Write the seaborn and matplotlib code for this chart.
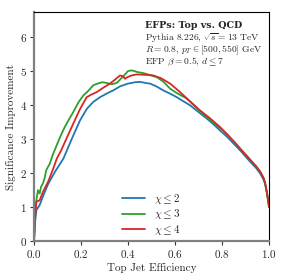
import matplotlib
matplotlib.use("Agg")
import matplotlib.pyplot as plt
import seaborn as sns
import pandas as pd

# curves: top jet efficiency vs significance improvement
eff_chi2 = [0, 0.005, 0.01, 0.024, 0.04, 0.06, 0.09, 0.125, 0.16, 0.196, 0.225, 0.252,
            0.281, 0.31, 0.337, 0.366, 0.40, 0.43, 0.451, 0.474, 0.494, 0.52, 0.55, 0.58,
            0.607, 0.635, 0.664, 0.70, 0.735, 0.765, 0.791, 0.82, 0.848, 0.88, 0.919,
            0.945, 0.962, 0.975, 0.983, 0.991, 1.0]
sig_chi2 = [0, 0.6, 0.91, 1.06, 1.35, 1.68, 2.05, 2.43, 3.0, 3.56, 3.9, 4.10,
            4.24, 4.35, 4.44, 4.56, 4.64, 4.68, 4.69, 4.66, 4.64, 4.56, 4.44, 4.34,
            4.24, 4.12, 4.0, 3.80, 3.61, 3.43, 3.26, 3.08, 2.88, 2.65, 2.34,
            2.15, 1.99, 1.83, 1.68, 1.40, 1.0]

eff_chi3 = [0, 0.005, 0.012, 0.017, 0.024, 0.03, 0.038, 0.045, 0.052, 0.067, 0.08, 0.088,
            0.11, 0.13, 0.15, 0.167, 0.19, 0.21, 0.23, 0.252, 0.27, 0.29, 0.309, 0.33,
            0.352, 0.375, 0.40, 0.416, 0.44, 0.465, 0.49, 0.522, 0.55, 0.579, 0.61, 0.65,
            0.692, 0.73, 0.77, 0.80, 0.848, 0.88, 0.919, 0.945, 0.962, 0.975, 0.983,
            0.991, 1.0]
sig_chi3 = [0, 0.9, 1.3, 1.5, 1.4, 1.6, 1.7, 1.85, 2.09, 2.28, 2.55, 2.68,
            3.05, 3.35, 3.6, 3.80, 4.1, 4.29, 4.42, 4.59, 4.64, 4.68, 4.66, 4.62,
            4.66, 4.82, 5.01, 5.03, 4.98, 4.95, 4.90, 4.83, 4.70, 4.49, 4.35, 4.20,
            3.92, 3.68, 3.45, 3.28, 2.95, 2.70, 2.40, 2.20, 2.04, 1.88, 1.72,
            1.42, 1.0]

eff_chi4 = [0, 0.005, 0.01, 0.024, 0.038, 0.06, 0.08, 0.097, 0.116, 0.14, 0.167, 0.195,
            0.224, 0.245, 0.267, 0.295, 0.323, 0.345, 0.366, 0.38, 0.387, 0.394, 0.415,
            0.437, 0.47, 0.508, 0.54, 0.579, 0.621, 0.66, 0.706, 0.75, 0.791, 0.82,
            0.848, 0.88, 0.919, 0.945, 0.962, 0.975, 0.983, 0.991, 1.0]
sig_chi4 = [0, 0.7, 1.16, 1.2, 1.45, 1.75, 2.1, 2.43, 2.68, 3.05, 3.46, 3.88,
            4.24, 4.32, 4.39, 4.52, 4.64, 4.76, 4.88, 4.85, 4.78, 4.82, 4.88,
            4.91, 4.90, 4.88, 4.80, 4.64, 4.39, 4.14, 3.85, 3.61, 3.36, 3.16,
            2.95, 2.70, 2.40, 2.20, 2.05, 1.88, 1.72, 1.42, 1.0]

labels = [r'$\chi \leq 2$', r'$\chi \leq 3$', r'$\chi \leq 4$']
colors = ['#1f77b4', '#2ca02c', '#d62728']

df = pd.concat([
    pd.DataFrame({'eff': eff_chi2, 'sig': sig_chi2, 'chi': labels[0]}),
    pd.DataFrame({'eff': eff_chi3, 'sig': sig_chi3, 'chi': labels[1]}),
    pd.DataFrame({'eff': eff_chi4, 'sig': sig_chi4, 'chi': labels[2]}),
])

sns.set_style('ticks')
plt.rcParams['font.family'] = ['cmr10', 'DejaVu Serif']
plt.rcParams['mathtext.fontset'] = 'cm'
plt.rcParams['axes.formatter.use_mathtext'] = True

fig = plt.figure(figsize=(3.01, 2.79), dpi=100)
ax = fig.add_axes([0.113, 0.136, 0.781, 0.821])

sns.lineplot(data=df, x='eff', y='sig', hue='chi', palette=colors, estimator=None,
             sort=False, linewidth=1.3, ax=ax)

ax.set_xlim(0, 1)
ax.set_ylim(0, 6.75)
ax.set_xticks([0, 0.2, 0.4, 0.6, 0.8, 1.0])
ax.set_yticks(range(0, 7))
ax.tick_params(labelsize=8, length=3, width=0.8, color='#333333', pad=2)
ax.set_xlabel('Top Jet Efficiency', fontsize=8, labelpad=2)
ax.set_ylabel('Significance Improvement', fontsize=8, labelpad=3)

for s in ['left', 'bottom']:
    ax.spines[s].set_color('#808080')
    ax.spines[s].set_linewidth(1.6)
for s in ['top', 'right']:
    ax.spines[s].set_color('black')
    ax.spines[s].set_linewidth(0.8)

ax.legend(loc='lower center', bbox_to_anchor=(0.5, -0.025), frameon=False, fontsize=8,
          handlelength=2.1, labelspacing=0.12, title=None)

ax.text(0.472, 0.932, 'EFPs: Top vs. QCD', transform=ax.transAxes, fontsize=6.8,
        family='DejaVu Serif', weight='bold', va='baseline', ha='left')
ax.text(0.472, 0.879, r'Pythia 8.226, $\sqrt{s} = 13$ TeV', transform=ax.transAxes,
        fontsize=6.9, va='baseline', ha='left')
ax.text(0.472, 0.825, r'$R = 0.8$, $p_T \in [500, 550]$ GeV', transform=ax.transAxes,
        fontsize=6.9, va='baseline', ha='left')
ax.text(0.472, 0.774, r'EFP $\beta = 0.5$, $d \leq 7$', transform=ax.transAxes,
        fontsize=6.9, va='baseline', ha='left')

fig.savefig('out.png', dpi=100)
